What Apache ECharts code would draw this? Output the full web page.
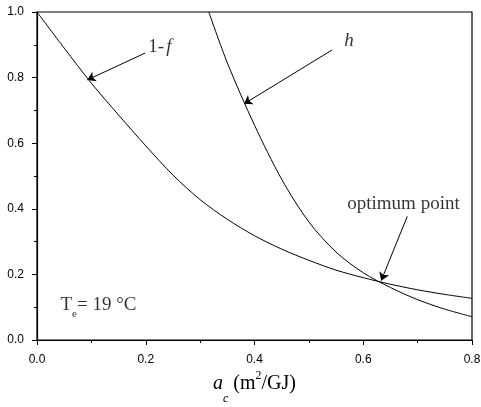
<!DOCTYPE html>
<html><head><meta charset="utf-8">
<script src="https://cdn.jsdelivr.net/npm/echarts@6/dist/echarts.min.js"></script>
<style>html,body{margin:0;padding:0;background:#fff}#c{width:481px;height:407px}</style>
</head><body><div id="c"></div>
<script>
// 1-f curve
const xOneMinusF = [0, 0.05, 0.1, 0.15, 0.2, 0.25, 0.3, 0.35, 0.4, 0.45, 0.5, 0.55, 0.6, 0.65, 0.7, 0.75, 0.8];
const yOneMinusF = [1.0, 0.89, 0.783, 0.686, 0.592, 0.503, 0.428, 0.368, 0.318, 0.277, 0.243, 0.213, 0.19, 0.17, 0.153, 0.139, 0.127];
// h curve
const xH = [0.316, 0.35, 0.4, 0.45, 0.5, 0.55, 0.6, 0.65, 0.7, 0.75, 0.8];
const yH = [1.0, 0.845, 0.655, 0.49, 0.36, 0.268, 0.205, 0.16, 0.123, 0.094, 0.071];
// axis ticks
const xTickValues = [0, 0.2, 0.4, 0.6, 0.8];
const yTickValues = [0, 0.2, 0.4, 0.6, 0.8, 1.0];
// annotation arrows: [fromX, fromY] -> [toX, toY]
const arrowFrom = [[0.199, 0.875], [0.5425, 0.884], [0.681, 0.377]];
const arrowTo = [[0.0925, 0.793], [0.3807, 0.72], [0.633, 0.181]];
// annotation labels
const labelTexts = ['{n|1-}{i|f}', '{i|h}', '{n|optimum point}', '{t|T}{e|e}{t|= 19 °C}'];
const labelAt = [[0.226, 0.893], [0.572, 0.912], [0.674, 0.414], [0.113, 0.108]];

const serif = 'Liberation Serif, Times New Roman, serif';
const sans = 'Liberation Sans, Arial, sans-serif';

const chart = echarts.init(document.getElementById('c'), null, {renderer: 'canvas'});
chart.setOption({
  animation: false,
  backgroundColor: '#fff',
  grid: {left: 37, right: 9, top: 12, bottom: 67, containLabel: false, outerBoundsMode: 'none',
    show: true, borderColor: '#000', borderWidth: 1.2, backgroundColor: 'transparent'},
  xAxis: {
    type: 'value', min: xTickValues[0], max: xTickValues[xTickValues.length - 1], interval: 0.2,
    axisLine: {show: true, onZero: false, lineStyle: {color: '#000', width: 1.2}},
    axisTick: {show: true, inside: false, length: 5, lineStyle: {color: '#000', width: 1}},
    minorTick: {show: true, splitNumber: 2, length: 3, lineStyle: {color: '#000', width: 1}},
    splitLine: {show: false},
    axisLabel: {color: '#000', fontFamily: sans, fontSize: 12, margin: 14, formatter: v => v.toFixed(1)},
    name: '{a|a}{c|c}{t| (m}{s|2}{t|/GJ)}',
    nameLocation: 'middle', nameGap: 23, nameMoveOverlap: false,
    nameTextStyle: {
      rich: {
        a: {fontFamily: serif, fontStyle: 'italic', fontSize: 20, lineHeight: 42, verticalAlign: 'middle', color: '#000'},
        c: {fontFamily: serif, fontStyle: 'italic', fontSize: 12, lineHeight: 14, verticalAlign: 'bottom', color: '#000'},
        t: {fontFamily: serif, fontSize: 20, lineHeight: 42, verticalAlign: 'middle', color: '#000'},
        s: {fontFamily: serif, fontSize: 12, lineHeight: 14, verticalAlign: 'top', padding: [7, 0, 0, 0], color: '#000'}
      }
    }
  },
  yAxis: {
    type: 'value', min: yTickValues[0], max: yTickValues[yTickValues.length - 1], interval: 0.2,
    axisLine: {show: true, onZero: false, lineStyle: {color: '#000', width: 1.2}},
    axisTick: {show: true, inside: false, length: 5, lineStyle: {color: '#000', width: 1}},
    minorTick: {show: true, splitNumber: 2, length: 3, lineStyle: {color: '#000', width: 1}},
    splitLine: {show: false},
    axisLabel: {color: '#000', fontFamily: sans, fontSize: 12, margin: 13, formatter: v => v.toFixed(1)}
  },
  series: [
    {type: 'line', name: '1-f', data: xOneMinusF.map((x, i) => [x, yOneMinusF[i]]), smooth: 0.3, showSymbol: false, symbol: 'none', lineStyle: {color: '#000', width: 1}, silent: true, clip: true},
    {type: 'line', name: 'h', data: xH.map((x, i) => [x, yH[i]]), smooth: 0.3, showSymbol: false, symbol: 'none', lineStyle: {color: '#000', width: 1}, silent: true, clip: true},
    {type: 'lines', coordinateSystem: 'cartesian2d', symbol: ['none', 'arrow'], symbolSize: 8, silent: true,
      lineStyle: {color: '#000', width: 1, opacity: 1},
      data: arrowFrom.map((f, i) => ({coords: [f, arrowTo[i]]}))},
    {type: 'scatter', symbolSize: 0, silent: true,
      data: labelAt.map((p, i) => ({value: p, label: {formatter: labelTexts[i]}})),
      label: {
        show: true, position: 'inside', align: 'center', verticalAlign: 'middle',
        rich: {
          n: {fontFamily: serif, fontSize: 19, lineHeight: 30, verticalAlign: 'middle', color: '#000'},
          i: {fontFamily: serif, fontStyle: 'italic', fontSize: 19, lineHeight: 30, verticalAlign: 'middle', color: '#000', padding: [0, 0, 0, 2]},
          t: {fontFamily: serif, fontSize: 19, lineHeight: 30, verticalAlign: 'middle', color: '#000'},
          e: {fontFamily: serif, fontSize: 11, lineHeight: 10, verticalAlign: 'bottom', color: '#000'}
        }
      }}
  ]
});
</script></body></html>
